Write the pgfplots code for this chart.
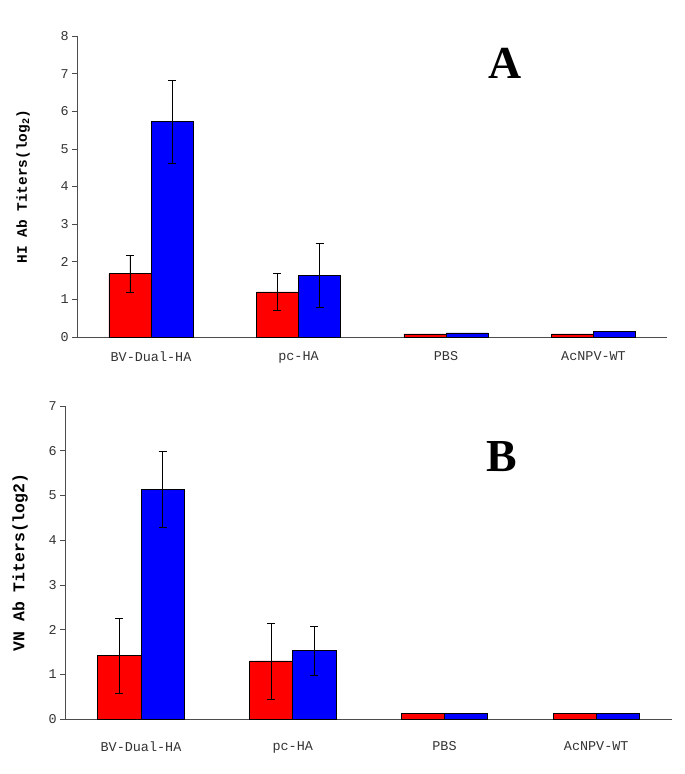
\documentclass[border=0pt]{standalone}
\usepackage{pgfplots}
\pgfplotsset{compat=1.18}
\usepackage{fontspec}
\setmainfont{Liberation Serif}
\setmonofont{Liberation Mono}
\definecolor{redbar}{RGB}{255,0,0}
\definecolor{bluebar}{RGB}{0,0,255}
\begin{document}
\begin{tikzpicture}
\pgfplotsset{
  common/.style={
    scale only axis,
    axis lines=left,
    axis line style={-, black!70, line width=0.9pt},
    xmin=-0.5, xmax=3.5, ymin=0,
    xtick={0,1,2,3},
    xticklabels={BV-Dual-HA,pc-HA,PBS,AcNPV-WT},
    x tick style={draw=none},
    ytick distance=1,
    y tick style={black!70, line width=0.6pt},
    tick align=outside,
    major tick length=5bp,
    /pgf/number format/assume math mode=true,
    tick label style={font=\ttfamily\fontsize{13.5}{13.5}\selectfont, text=black!80},
    ybar=0pt,
    bar width=0.285,
    clip=false,
  },
  barstyle/.style={draw=black, line width=0.6pt,
    error bars/.cd, y dir=both, y explicit,
    error bar style={black, line width=0.6pt},
    error mark options={rotate=90, mark size=4bp, black, line width=0.6pt}},
}
% Panel A
\begin{axis}[common,
  at={(151bp,437bp)}, anchor=origin,
  width=590bp, height=301bp,
  ymax=8,
  xticklabel style={yshift=-6bp},
  ylabel={HI Ab Titers(log\textsubscript{2})},
  ylabel style={at={(rel axis cs:0,0.5)}, anchor=center, yshift=54bp,
    font=\ttfamily\bfseries\fontsize{14.5}{14.5}\selectfont},
]
\addplot[fill=redbar, barstyle] coordinates {
  (0,1.68) +- (0,0.50)
  (1,1.20) +- (0,0.49)
  (2,0.08) +- (0,0)
  (3,0.08) +- (0,0)
};
\addplot[fill=bluebar, barstyle] coordinates {
  (0,5.72) +- (0,1.10)
  (1,1.63) +- (0,0.85)
  (2,0.11) +- (0,0)
  (3,0.14) +- (0,0)
};
\node[font=\rmfamily\bfseries\fontsize{46}{46}\selectfont] at (rel axis cs:0.725,0.91) {A};
\end{axis}
% Panel B
\begin{axis}[common,
  at={(141bp,55bp)}, anchor=origin,
  width=607bp, height=313bp,
  ymax=7,
  xticklabel style={yshift=-14bp},
  ylabel={VN Ab Titers(log2)},
  ylabel style={at={(rel axis cs:0,0.5)}, anchor=center, yshift=45bp,
    font=\ttfamily\bfseries\fontsize{16.5}{16.5}\selectfont},
]
\addplot[fill=redbar, barstyle] coordinates {
  (0,1.42) +- (0,0.84)
  (1,1.30) +- (0,0.85)
  (2,0.12) +- (0,0)
  (3,0.12) +- (0,0)
};
\addplot[fill=bluebar, barstyle] coordinates {
  (0,5.13) +- (0,0.85)
  (1,1.53) +- (0,0.55)
  (2,0.12) +- (0,0)
  (3,0.12) +- (0,0)
};
\node[font=\rmfamily\bfseries\fontsize{46}{46}\selectfont] at (rel axis cs:0.72,0.837) {B};
\end{axis}
\path (0bp,0bp) rectangle (685bp,774bp);
\end{tikzpicture}
\end{document}
